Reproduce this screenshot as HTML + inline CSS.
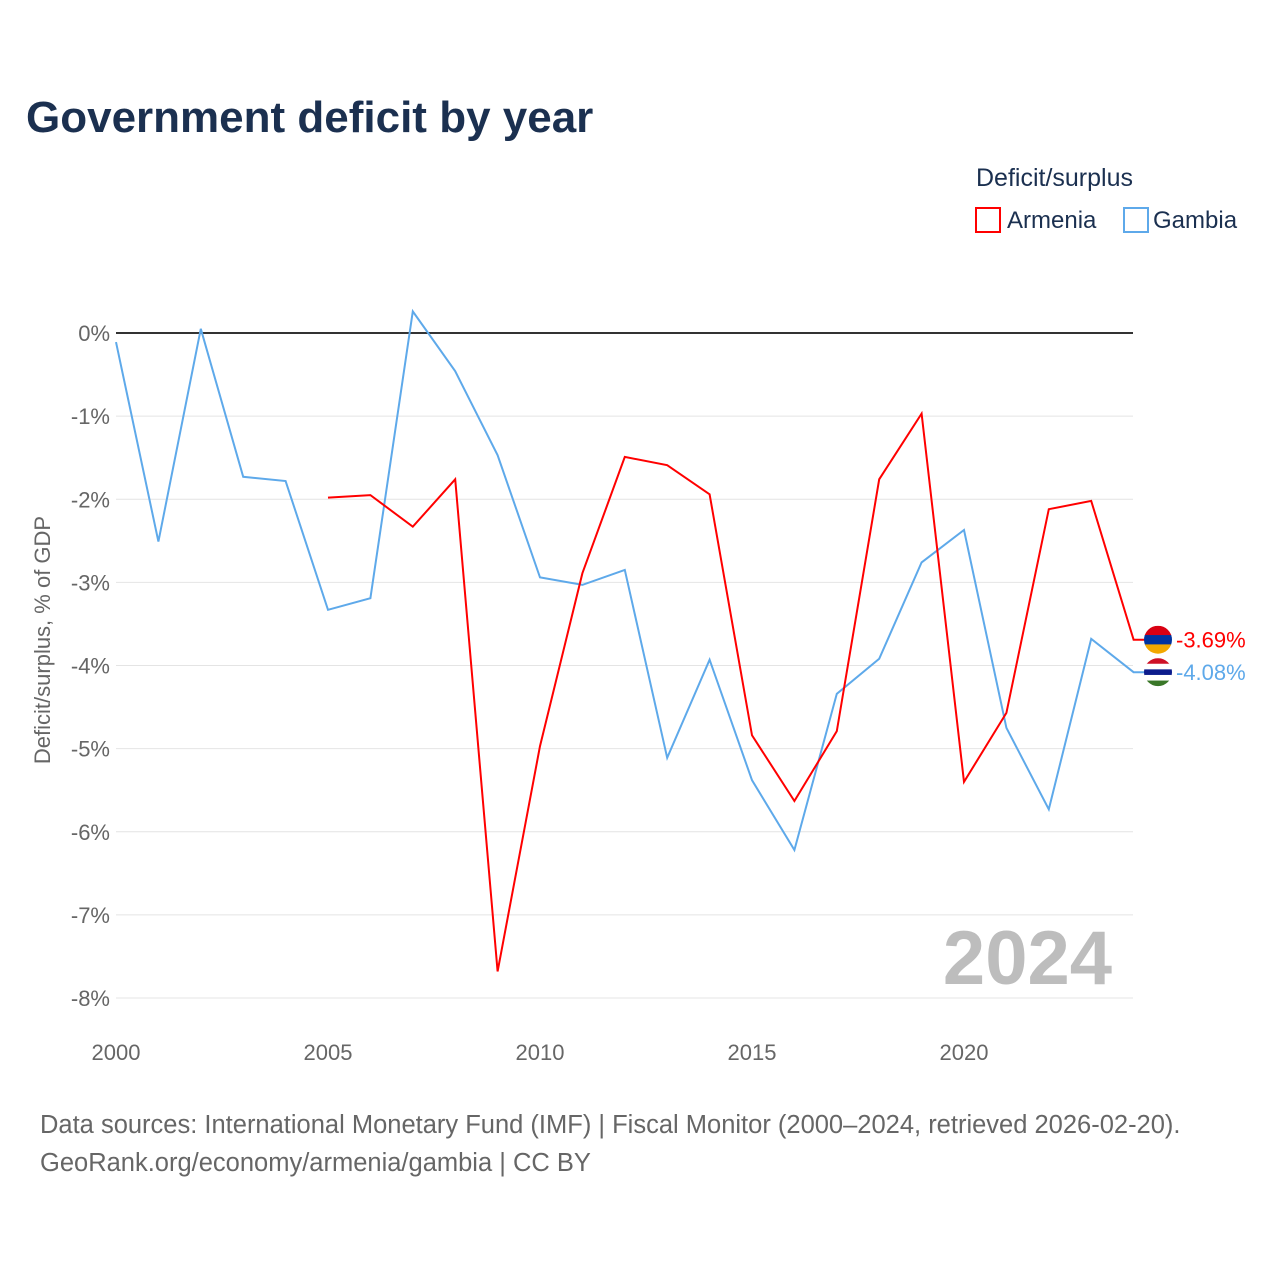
<!DOCTYPE html>
<html><head><meta charset="utf-8">
<style>
body{margin:0;background:#fff;font-family:"Liberation Sans",sans-serif;}
#wrap{position:relative;width:1280px;height:1280px;}
</style></head>
<body>
<div id="wrap">
<svg id="svg" width="1280" height="1280" xmlns="http://www.w3.org/2000/svg">
<text x="26" y="132" font-size="44" font-weight="bold" fill="#1b3050">Government deficit by year</text>
<text x="976" y="186" font-size="25" fill="#1b3050">Deficit/surplus</text>
<g>
<rect x="976" y="208" width="24" height="24" fill="none" stroke="#ff0000" stroke-width="2"/>
<text x="1007" y="228" font-size="24" fill="#1b3050">Armenia</text></g>
<g>
<rect x="1124" y="208" width="24" height="24" fill="none" stroke="#5ea9ea" stroke-width="2"/>
<text x="1153" y="228" font-size="24" fill="#1b3050">Gambia</text></g>
<text transform="translate(50,640) rotate(-90)" text-anchor="middle" font-size="22" fill="#666">Deficit/surplus, % of GDP</text>
<g id="grid"></g><g id="series"></g>
<text x="1112" y="984" text-anchor="end" font-size="76" font-weight="bold" fill="#bdbdbd">2024</text>
<text x="40" y="1133" font-size="25.5" fill="#666">Data sources: International Monetary Fund (IMF) | Fiscal Monitor (2000–2024, retrieved 2026-02-20).</text>
<text x="40" y="1171" font-size="25.5" fill="#666">GeoRank.org/economy/armenia/gambia | CC BY</text>
</svg></div>
<script>
const years=[2000,2001,2002,2003,2004,2005,2006,2007,2008,2009,2010,2011,2012,2013,2014,2015,2016,2017,2018,2019,2020,2021,2022,2023,2024];
const gambia=[-0.11,-2.51,0.05,-1.73,-1.78,-3.33,-3.19,0.26,-0.46,-1.47,-2.94,-3.03,-2.85,-5.11,-3.93,-5.38,-6.22,-4.34,-3.92,-2.76,-2.37,-4.75,-5.73,-3.68,-4.08];
const armenia=[null,null,null,null,null,-1.98,-1.95,-2.33,-1.76,-7.68,-4.97,-2.89,-1.49,-1.59,-1.94,-4.84,-5.63,-4.79,-1.76,-0.97,-5.40,-4.57,-2.12,-2.02,-3.69];
const yTicks=[0,-1,-2,-3,-4,-5,-6,-7,-8];
const xTicks=[2000,2005,2010,2015,2020];
const NS="http://www.w3.org/2000/svg";
const X=y=>116+(y-2000)*(1133.6-116)/24;
const Y=v=>333-v*(998-333)/8;
function mk(tag,attrs,parent){const e=document.createElementNS(NS,tag);for(const k in attrs)e.setAttribute(k,attrs[k]);parent.appendChild(e);return e;}
const grid=document.getElementById('grid'),ser=document.getElementById('series');
yTicks.forEach(t=>{
 const l=mk('line',{x1:116,x2:1133,y1:Y(t),y2:Y(t),stroke:t===0?'#333':'#e4e4e4','stroke-width':t===0?2:1},grid);
 
 
 const tx=mk('text',{x:110,y:Y(t)+8,'text-anchor':'end','font-size':22,fill:'#666'},grid);
 tx.textContent=t+'%';
 
 
});
xTicks.forEach(t=>{
 const tx=mk('text',{x:X(t),y:1060,'text-anchor':'middle','font-size':22,fill:'#666'},grid);
 tx.textContent=t;
 
 
});
function line(vals,color,name){
 let d='';let started=false;
 vals.forEach((v,i)=>{if(v===null)return;d+=(started?'L':'M')+X(years[i]).toFixed(1)+','+Y(v).toFixed(1);started=true;});
 d+='H1146';
 const p=mk('path',{d:d,fill:'none',stroke:color,'stroke-width':2},ser);
 
 
}
line(gambia,'#5ea9ea','gambia-line');
line(armenia,'#ff0000','armenia-line');
function endLabel(vals,color,name,flag){
 const v=vals[vals.length-1],cx=1158,cy=Y(v);
 const g=mk('g',{},ser);
 
 
 mk('clipPath',{id:'c'+name},g).appendChild(document.createElementNS(NS,'circle'));
 const cp=g.querySelector('circle');cp.setAttribute('cx',cx);cp.setAttribute('cy',cy);cp.setAttribute('r',14);
 const cols=flag;const h=28/cols.length;
 cols.forEach((c,i)=>mk('rect',{x:cx-14,y:cy-14+i*h,width:28,height:h+0.5,fill:c,'clip-path':'url(#c'+name+')'},g));
 const t=mk('text',{x:1176,y:cy+8,'font-size':22,fill:color},g);t.textContent=v.toFixed(2)+'%';
}
endLabel(armenia,'#ff0000','armenia-end-label',['#d90012','#0033a0','#f2a800']);
endLabel(gambia,'#5ea9ea','gambia-end-label',['#ce1126','#fff','#0c1c8c','#fff','#3a7728']);
</script>
</body></html>
